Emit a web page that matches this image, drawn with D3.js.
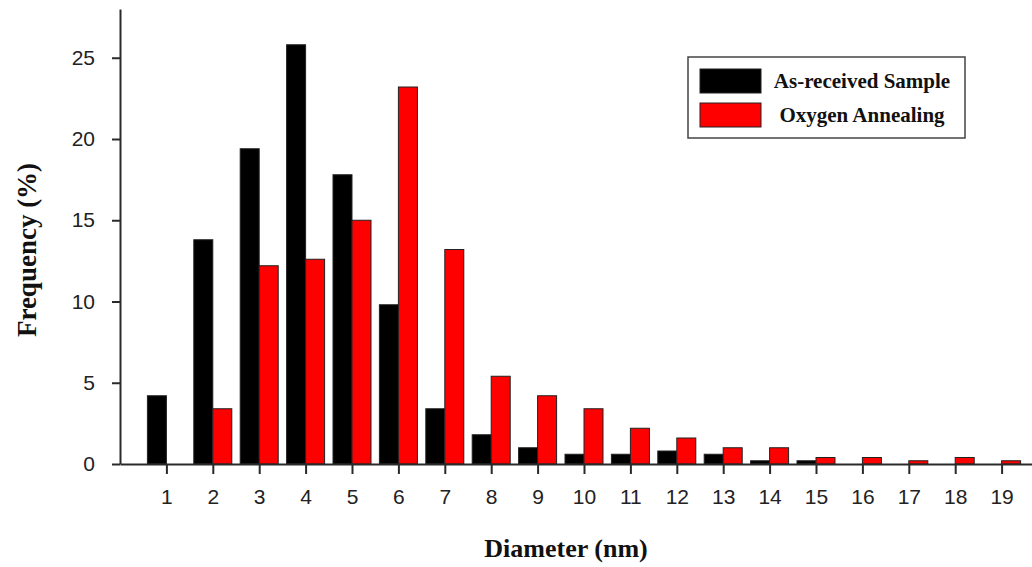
<!DOCTYPE html>
<html>
<head>
<meta charset="utf-8">
<script src="https://cdn.jsdelivr.net/npm/d3@7"></script>
<style>
  html, body { margin: 0; padding: 0; background: #fff; }
  svg { display: block; }
</style>
</head>
<body>
<svg id="diameter-chart" width="1032" height="567"></svg>
<script>
// Particle diameter bins (nm) and frequencies (%)
const diameters = [1, 2, 3, 4, 5, 6, 7, 8, 9, 10, 11, 12, 13, 14, 15, 16, 17, 18, 19];
const asReceived = [4.2, 13.8, 19.4, 25.8, 17.8, 9.8, 3.4, 1.8, 1.0, 0.6, 0.6, 0.8, 0.6, 0.2, 0.2, 0, 0, 0, 0];
const oxygenAnnealed = [0, 3.4, 12.2, 12.6, 15.0, 23.2, 13.2, 5.4, 4.2, 3.4, 2.2, 1.6, 1.0, 1.0, 0.4, 0.4, 0.2, 0.4, 0.2];
const seriesNames = ["As-received Sample", "Oxygen Annealing"];
const yTicks = [0, 5, 10, 15, 20, 25];

(function() {
  const INK = "#2a2a2a";
  const colors = ["#000000", "#ff0000"];

  const svg = d3.select("#diameter-chart");

  const x = d3.scaleLinear().domain([0, 20]).range([120, 1048]);
  const y = d3.scaleLinear().domain([0, 28]).range([464, 9]);
  const barW = 19;

  // Bars: black sits left of the tick, red to the right
  const series = [asReceived, oxygenAnnealed];
  series.forEach((vals, s) => {
    svg.append("g")
      .selectAll("rect")
      .data(diameters.map((d, i) => ({ d, v: vals[i] })).filter(p => p.v > 0))
      .join("rect")
      .attr("x", p => s === 0 ? x(p.d) - barW : x(p.d))
      .attr("y", p => y(p.v))
      .attr("width", barW)
      .attr("height", p => y(0) - y(p.v))
      .attr("fill", colors[s])
      .attr("stroke", "#222")
      .attr("stroke-width", 1);
  });

  // Axes
  const xAxis = svg.append("g")
    .attr("transform", `translate(0,${y(0)})`)
    .call(d3.axisBottom(x).tickValues(diameters).tickSize(10).tickSizeOuter(0).tickPadding(15));

  const yAxis = svg.append("g")
    .attr("transform", `translate(${x(0)},0)`)
    .call(d3.axisLeft(y).tickValues(yTicks).tickSize(8).tickSizeOuter(0).tickPadding(17));

  [xAxis, yAxis].forEach(a => {
    a.select(".domain").attr("stroke", INK).attr("stroke-width", 2);
    a.selectAll(".tick line").attr("stroke", INK).attr("stroke-width", 2);
    a.selectAll(".tick text")
      .attr("font-family", "Liberation Sans, Arial, sans-serif")
      .attr("font-size", 21)
      .attr("fill", "#222");
  });

  // Axis titles
  svg.append("text")
    .attr("x", 566)
    .attr("y", 557)
    .attr("text-anchor", "middle")
    .attr("font-family", "Liberation Serif, Times New Roman, serif")
    .attr("font-weight", 700)
    .attr("font-size", 26)
    .attr("fill", "#111")
    .text("Diameter (nm)");

  svg.append("text")
    .attr("transform", `translate(36,${250}) rotate(-90)`)
    .attr("text-anchor", "middle")
    .attr("font-family", "Liberation Serif, Times New Roman, serif")
    .attr("font-weight", 700)
    .attr("font-size", 27)
    .attr("fill", "#111")
    .text("Frequency (%)");

  // Legend
  const legend = svg.append("g").attr("transform", "translate(688,57)");
  legend.append("rect")
    .attr("width", 277).attr("height", 81)
    .attr("fill", "#fff")
    .attr("stroke", "#444")
    .attr("stroke-width", 1.5);

  seriesNames.forEach((name, i) => {
    legend.append("rect")
      .attr("x", 12).attr("y", 12 + i * 34)
      .attr("width", 61).attr("height", 24)
      .attr("fill", colors[i])
      .attr("stroke", "#222")
      .attr("stroke-width", 1);
    legend.append("text")
      .attr("x", 174)
      .attr("y", 31 + i * 34)
      .attr("text-anchor", "middle")
      .attr("font-family", "Liberation Serif, Times New Roman, serif")
      .attr("font-weight", 700)
      .attr("font-size", 21)
      .attr("fill", "#111")
      .text(name);
  });
})();
</script>
</body>
</html>
